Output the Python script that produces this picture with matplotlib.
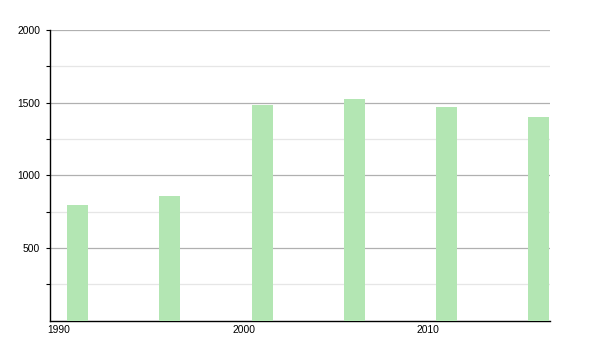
import matplotlib.pyplot as plt

plt.rcParams['font.family'] = ['Liberation Sans', 'DejaVu Sans']

# census years and population
years = [1991, 1996, 2001, 2006, 2011, 2016]
population = [792, 859, 1481, 1525, 1468, 1401]

major_ticks = [500, 1000, 1500, 2000]
minor_ticks = [250, 750, 1250, 1750]
x_ticks = [1990, 2000, 2010]

fig = plt.figure(figsize=(6, 3.5), dpi=100)
ax = fig.add_axes([50 / 600, 29.5 / 350, 500 / 600, 290.5 / 350])

ax.bar(years, population, width=1.14, color='#b3e6b3', linewidth=0, zorder=3)

ax.set_xlim(1989.51, 2016.6)
ax.set_ylim(0, 2000)

ax.set_yticks(major_ticks)
ax.set_yticks(minor_ticks, minor=True)
ax.set_xticks(x_ticks)
ax.set_xticklabels([str(x) for x in x_ticks])

ax.grid(axis='y', which='major', color='#b0b0b0', linewidth=0.9, zorder=0)
ax.grid(axis='y', which='minor', color='#e6e6e6', linewidth=0.9, zorder=0)

for side in ['top', 'right']:
    ax.spines[side].set_visible(False)
ax.spines['left'].set_linewidth(1.0)
ax.spines['bottom'].set_linewidth(1.0)

ax.tick_params(axis='y', which='both', length=3, width=0.8, labelsize=7.4, pad=4)
ax.tick_params(axis='x', length=0, labelsize=7.4, pad=3)

fig.savefig('out.png', dpi=100)
